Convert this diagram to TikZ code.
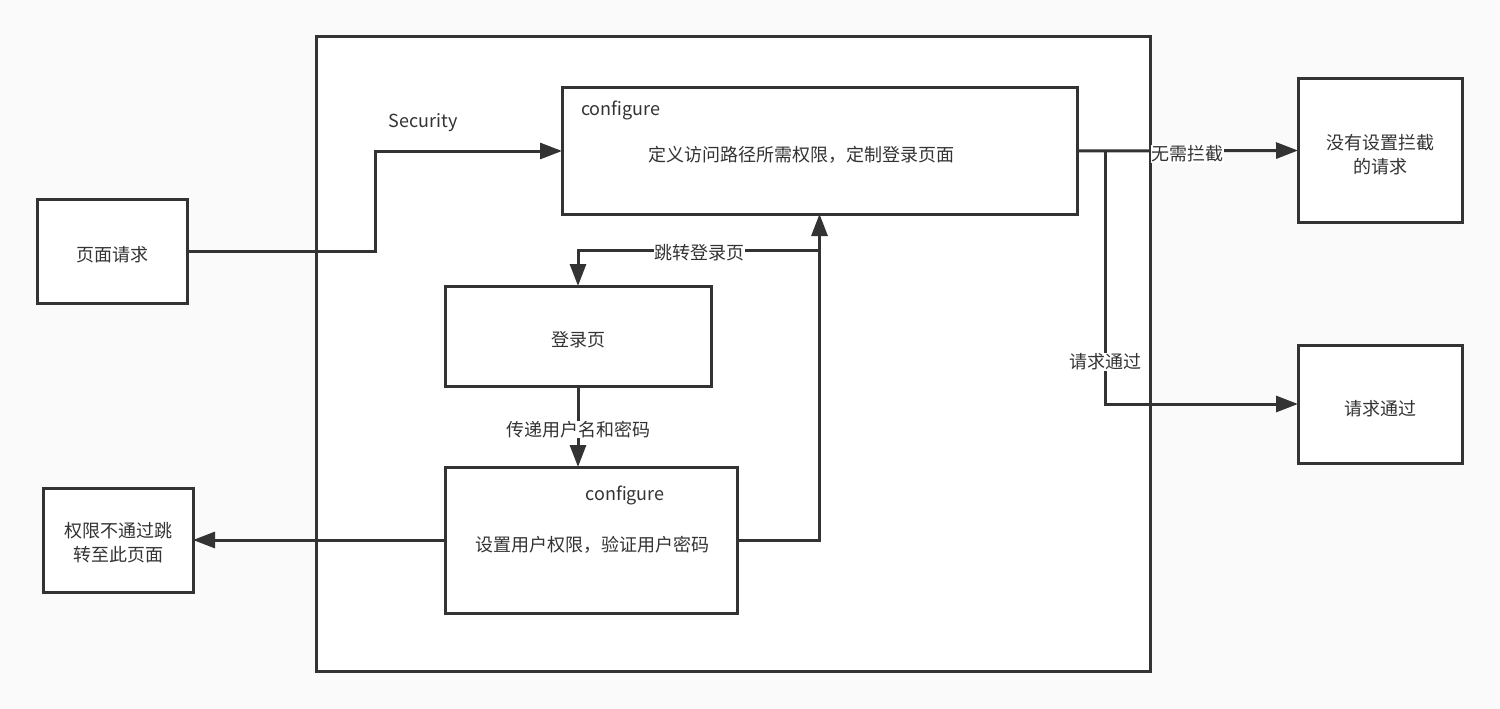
\documentclass[tikz,border=0pt]{standalone}
\usepackage{fontspec}
\setmainfont{Noto Sans CJK SC}
\usetikzlibrary{arrows.meta,calc}
\definecolor{ln}{HTML}{333333}
\definecolor{bg}{HTML}{FAFAFA}
\tikzset{
  box/.style={draw=ln,line width=3pt,fill=white,rectangle,inner sep=0pt,outer sep=0pt},
  txt/.style={text=ln,font=\fontsize{18}{24}\selectfont,inner sep=1pt,align=center},
  lbl/.style={txt,fill=white,inner sep=0.5pt},
  arr/.style={draw=ln,line width=3pt,-{Triangle[length=22pt,width=16pt]}},
  con/.style={draw=ln,line width=3pt}
}
\begin{document}
\begin{tikzpicture}[x=1pt,y=-1pt]
\useasboundingbox (0,0) rectangle (1500,709);
\fill[bg] (0,0) rectangle (1500,709);
\node[box,minimum width=834pt,minimum height=634pt] (frame) at (733,354) {};
\node[box,minimum width=515pt,minimum height=126pt] (cfg1) at (819.5,151) {};
\node[box,minimum width=150pt,minimum height=104pt] (page) at (112,251) {};
\node[box,minimum width=266pt,minimum height=100pt] (login) at (578,336) {};
\node[box,minimum width=292pt,minimum height=146pt] (cfg2) at (591,540) {};
\node[box,minimum width=150pt,minimum height=104pt] (perm) at (118,540) {};
\node[box,minimum width=164pt,minimum height=143pt] (nointer) at (1380,150.5) {};
\node[box,minimum width=164pt,minimum height=118pt] (pass) at (1380,404) {};
% texts
\node[txt,anchor=west] (cfg1t) at (580,110) {configure};
\node[txt] (cfg1m) at (801,155) {定义访问路径所需权限，定制登录页面};
\node[txt] (paget) at (112,255) {页面请求};
\node[txt] (logint) at (578,340) {登录页};
\node[txt] (cfg2t) at (625,495) {configure};
\node[txt] (cfg2m) at (592,545) {设置用户权限，验证用户密码};
\node[txt] (permt) at (118,543) {权限不通过跳\\转至此页面};
\node[txt] (nointert) at (1380,155) {没有设置拦截\\的请求};
\node[txt] (passt) at (1380,409) {请求通过};
\node[txt] (sec) at (423,123) {Security};
% connectors
\draw[arr] (page.east) -- ++(188,0) |- (cfg1.west);
\draw[arr] (cfg2.east) -| (cfg1.south);
\coordinate (jmp) at ($(cfg1.south)+(0.5,36)$);
\draw[arr] (jmp) -| node[lbl,pos=0.25,yshift=-3pt] (jmpl) {跳转登录页} (login.north);
\draw[arr] (login.south) -- node[lbl,yshift=-3pt] (pwl) {传递用户名和密码} (login.south |- cfg2.north);
\draw[arr] (cfg2.west) -- (perm.east);
\coordinate (br) at ($(cfg1.east)+(28,0)$);
\draw[arr] (br) |- node[lbl,pos=0.417] (passl) {请求通过} (pass.west);
\draw[arr] (cfg1.east) -- node[lbl,yshift=-3pt] (nol) {无需拦截} (nointer.west);
\end{tikzpicture}
\end{document}
